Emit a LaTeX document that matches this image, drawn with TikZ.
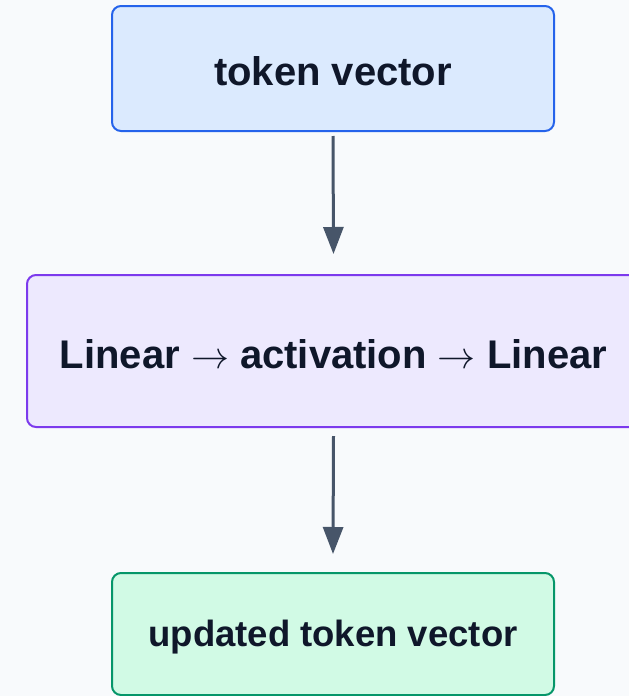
\documentclass[tikz,border=0pt]{standalone}
\usepackage{fontspec}
\setmainfont{Liberation Sans}
\usetikzlibrary{arrows.meta}
\definecolor{bgc}{HTML}{F8FAFC}
\definecolor{bluefill}{HTML}{DBEAFE}
\definecolor{bluedraw}{HTML}{2563EB}
\definecolor{purpfill}{HTML}{EDE9FE}
\definecolor{purpdraw}{HTML}{7C3AED}
\definecolor{greenfill}{HTML}{D1FAE5}
\definecolor{greendraw}{HTML}{059669}
\definecolor{txt}{HTML}{0F172A}
\definecolor{arrc}{HTML}{475569}
\newcommand{\rarr}{\resizebox{38pt}{!}{$\rightarrow$}}
\tikzset{
  box/.style={rectangle, rounded corners=9pt, line width=2pt, inner sep=0pt,
    text=txt, font=\bfseries\fontsize{40}{48}\selectfont, text depth=0pt},
  conn/.style={draw=arrc, line width=3pt, -{Triangle[length=27pt,width=20pt]}}
}
\begin{document}
\begin{tikzpicture}[x=1pt,y=-1pt]
\useasboundingbox (0,0) rectangle (629,696);
\fill[bgc] (0,0) rectangle (629,696);
\clip (0,0) rectangle (629,696);
\node[box, fill=bluefill, draw=bluedraw, minimum width=442pt, minimum height=125pt,
  text height=33pt]
  (top) at (333,68.5) {token vector};
\node[box, fill=purpfill, draw=purpdraw, minimum width=613pt, minimum height=152pt,
  text height=34pt]
  (mid) at (333.5,351) {Linear \rarr{} activation \rarr{} Linear};
\node[box, fill=greenfill, draw=greendraw, minimum width=442pt, minimum height=122pt,
  text height=24pt, font=\bfseries\fontsize{36.5}{44}\selectfont]
  (bot) at (333,634) {updated token vector};
\draw[conn] ([yshift=-4pt]top.south) -- ([yshift=20pt]mid.north);
\draw[conn] ([yshift=-8pt]mid.south) -- ([yshift=18pt]bot.north);
\end{tikzpicture}
\end{document}
